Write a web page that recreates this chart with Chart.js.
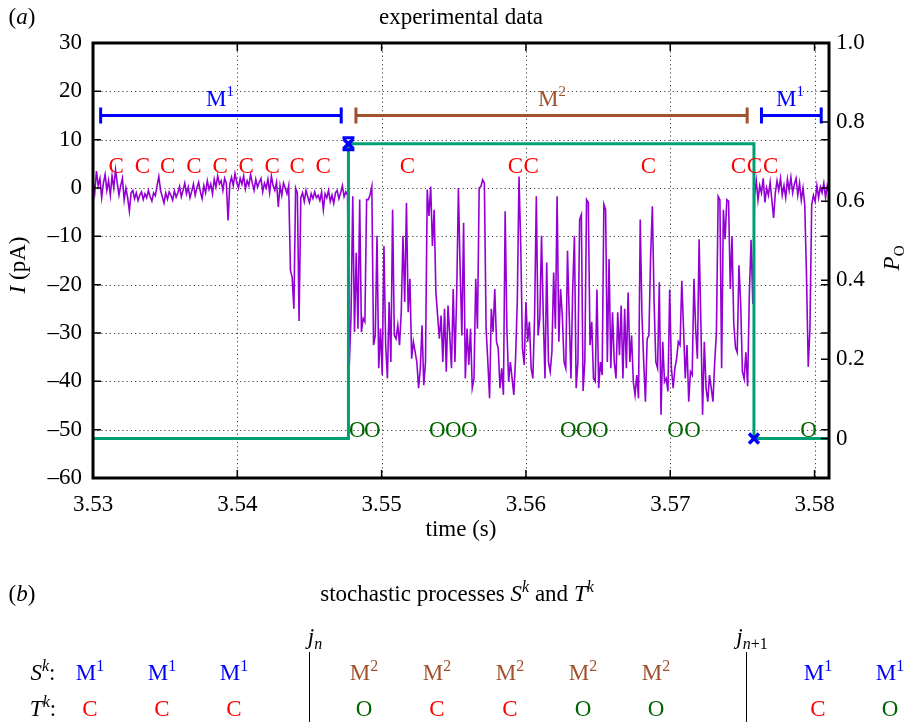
<!DOCTYPE html>
<html>
<head>
<meta charset="utf-8">
<script src="https://cdn.jsdelivr.net/npm/chart.js@4.4.1/dist/chart.umd.min.js"></script>
<style>
  body { margin: 0; background: #fff; }
  #wrap { position: relative; width: 909px; height: 722px; font-family: "Liberation Serif", "Times New Roman", serif; color: #000; }
  #wrap canvas { position: absolute; left: 0; top: 0; }
  .lab { position: absolute; transform: translate(-50%, -50%); white-space: nowrap; font-size: 23px; line-height: 1; }
  .lab sup, .lab sub { font-size: 16px; line-height: 0; }
  .vl { position: absolute; width: 1px; background: #000; }
</style>
</head>
<body>
<div id="wrap">
  <canvas id="chart" width="909" height="722"></canvas>
  <div id="panelB"></div>
</div>
<script>
// Values
// current trace, sampled every dt seconds from t0 (pA)
const t0 = 3.53;
const dt = 0.00012;
const current = [
  1.5, -1, 3.5, 0.5, 2, -2, 1, 2.8, -0.5, 1.5,
  -1.5, 2.5, 0, 3.8, 1, -1.5, 0.5, 2, -2.5, 0,
  -2, -4.8, -1, -0.5, -2.2, -1, -2.6, -1.5, -0.8, -2.4,
  -1.2, -2, -0.5, -1.8, -2.7, -1, -1.6, 0.5, 2.4, -0.5,
  -1.8, -3.1, -1, -2.3, -0.8, -1.5, -2.5, -0.6, -1.9, -1,
  0.3, -1.8, -0.5, 1, -1.2, 0.2, -2, -0.7, 0.8, -1.5,
  0, 1.2, -0.8, -2.2, 0.5, -1, 1.5, -0.3, 0.8, -1.2,
  1.8, 0.2, 2.5, 0.8, 1.5, -0.5, 2, 1, -6.7, 0.8,
  2.2, 0.5, 3, 1.2, 0, 2, 0.8, 2.5, -0.2, 1.5,
  0.5, 2.8, 1, -0.5, 1.8, 0.2, 1.2, 2, -0.8, 1,
  0, 1.8, -1, 2.5, 0.5, -0.5, 1.2, -3.9, 0.5, -1.5,
  1, 0, -1.2, 0.5, -17, -18.5, -25, 0, -1, -27.5,
  -2, -1, -2.8, -0.5, -1.8, -3, -1.2, -2.2, -0.8, -2,
  -1.5, -2.6, -0.8, -4.5, -1.2, -2, -0.5, -2.8, -1.5, -3.2,
  -1, -0.5, -2.2, -1, 0.5, -1.8, -0.8, -1.5,
  // mode 2 bursts
  -36.6, -26.4, -1.7, -29.8, -13.4, -29.1, -2.4, -29.8, -27, -27.7,
  -2.4, -2.4, -1.4, 0.3, -32.5, -30.5, -9.9, -37.3, -29.1, -38.7,
  -12, -32.5, -39.4, -23.6, -36, -4.5, -30.5, -31.2, -28.4, -32.5,
  -25.7, -9.9, -23.6, -3.1, -25.7, -18.8, -35.3, -31.8, -33.9, -36,
  -41.4, -37.3, -28.4, -40.8, -36, -0.3, -5.8, 0.3, -12, -4.5,
  -21.6, -26.4, -31.2, -26.4, -36, -25, -38, -24.3, -30.5, -37.3,
  -20.9, -36, -22.3, 0, -16.8, -30.5, -7.2, -39.4, -29.1, -36.6,
  -29.1, -41.4, -39.4, -18.8, -29.1, 0, 0.3, 1.7, 1, -29.1,
  -36, -43.5, -25, -29.8, -20.9, -31.8, -33.2, -41.4, -37.3, -42.8,
  -4.8, -29.1, -40.1, -36, -39.4, -42.8, -35.3, -23.6, 2.4, -12,
  -33.2, -36.6, -23.6, -31.8, -27.7, -37.3, -39.4, -26.4, -1.7, -30.5,
  -27,
  -9.9, -26.4, -39.4, -15.4, -36, -38, -33.9, -17.5, -29.1, -1.7,
  -31.8, -20.9, -26.4, -36, -37.3, -13, -26.4, -39.4, -20.9, -9.9,
  -41.4, -36, -6.5, -5.5, -42, -36, -2.4, -3, -32.5, -27.7,
  -39.4, -40, -21, -41.4, -36, -38.7, -3.4, -4.5, -36, -14.7,
  -37.3, -25.7, -36, -39.4, -25.7, -34.6, -24.3, -39.4, -25, -37.3,
  -21.6, -36, -30.5, -40.1, -42.8, -38.7, -43.5, -6.5, -26.4, -36,
  -44.2, -31.2, -30.5, -14, -3.8, -23.6, -36, -37.3, -19.5, -46.9,
  -31.8, -40.1, -39.4, -42.1, -21, -37.3, -41.4, -37.3, -35.3, -31.8,
  -32.5, -19.2, -29.1, -39.4, -32.5, -44.2, -38, -38.7, -18.8, -29.1,
  -35.3, -10.6, -27.7, -46.9, -31.8, -41.4, -44.2, -38.7, -41.4, -44.2,
  -36, -29.8, -1.7, -2.4, -37.3, -4.5, -10.6, -2.4, -2.7, -20.9,
  -10, -28, -33, -34, -16, -24, -38, -39.5, -34, -41, -22, -10.7, -24,
  // back to mode 1
  -1.5, 1.5, -2.5, 0.5, -1, 2, -3, 0, -1.5, 1.2,
  -2.5, -6.2, -1, 1.5, -0.5, 2, -1.5, 0.5, -2, 1.8,
  -0.5, 2.2, -1, 0.8, 2, -1.5, 1, -2.5, 0, -3.5,
  -18, -37, -29, -3.5, -1.5, -2.8, 0.5, -2, 0.2, -1,
  1, -2, 0.5, -1
];

// open probability step (right axis)
const stepTimes = [3.53, 3.5477, 3.5477, 3.5758, 3.5758, 3.581];
const stepPo = [0, 0, 0.745, 0.745, 0, 0];
const jumpTimes = [3.5477, 3.5758];
const jumpPo = [0.745, 0];

// mode intervals (drawn at barLevel pA)
const mode1Spans = [[3.53053, 3.5472], [3.57632, 3.58046]];
const mode2Spans = [[3.54822, 3.57533]];
const barLevel = 15;
const modeLabelTimes = [3.5388, 3.5618, 3.5783];
const modeLabelIds = ['1', '2', '1'];
const modeLabelLevel = 18.2;

// closed / open marks
const cTimes = [3.5316, 3.53342, 3.53518, 3.537, 3.53881, 3.54061, 3.54241, 3.54415, 3.54595,
                3.55178, 3.55927, 3.56037, 3.56849, 3.57473, 3.57584, 3.57695];
const oTimes = [3.54831, 3.54935, 3.55386, 3.55497, 3.55608, 3.56294, 3.56405, 3.56516,
                3.57036, 3.57154, 3.57958];
const cLevel = 4.4;
const oLevel = -50.2;

const xTicks = [3.53, 3.54, 3.55, 3.56, 3.57, 3.58];
const yTicks = [-60, -50, -40, -30, -20, -10, 0, 10, 20, 30];
const y2Ticks = [0, 0.2, 0.4, 0.6, 0.8, 1.0];

// panel (b) sequences
const sSeq = ['1', '1', '1', '2', '2', '2', '2', '2', '1', '1'];
const tSeq = ['C', 'C', 'C', 'O', 'C', 'C', 'O', 'O', 'C', 'O'];

const FONT = '"Liberation Serif", "Times New Roman", serif';
const BLUE = '#0000ff', BROWN = '#a0522d', RED = '#ff0000', DKGREEN = '#006400';
const modeColor = id => id === '1' ? BLUE : BROWN;

const traceData = current.map((v, i) => ({ x: t0 + i * dt, y: v }));
const spanData = spans => spans.flatMap(s => [{ x: s[0], y: barLevel }, { x: s[1], y: barLevel }, { x: NaN, y: NaN }]);

function runsWidth(ctx, runs, size) {
  let w = 0;
  runs.forEach(r => {
    const s = r.sup || r.sub ? size * 0.65 : size;
    ctx.font = (r.it ? 'italic ' : '') + s + 'px ' + FONT;
    w += ctx.measureText(r.t).width;
  });
  return w;
}
// draw a run of text pieces (italic / superscript / subscript) centred at x,y
function drawRuns(ctx, runs, x, y, size, color) {
  let cx = x - runsWidth(ctx, runs, size) / 2;
  ctx.fillStyle = color;
  ctx.textAlign = 'left';
  ctx.textBaseline = 'middle';
  runs.forEach(r => {
    const s = r.sup || r.sub ? size * 0.65 : size;
    ctx.font = (r.it ? 'italic ' : '') + s + 'px ' + FONT;
    const dy = r.sup ? -size * 0.35 : r.sub ? size * 0.3 : 0;
    ctx.fillText(r.t, cx, y + dy);
    cx += ctx.measureText(r.t).width;
  });
}

const decorations = {
  id: 'decorations',
  beforeDatasetsDraw(chart) {
    const { ctx, chartArea: a, scales: { x, y } } = chart;
    ctx.save();
    ctx.strokeStyle = '#444';
    ctx.lineWidth = 1;
    ctx.setLineDash([1.2, 3]);
    yTicks.slice(1, -1).forEach(v => {
      const py = Math.round(y.getPixelForValue(v)) + 0.5;
      ctx.beginPath(); ctx.moveTo(a.left, py); ctx.lineTo(a.right, py); ctx.stroke();
    });
    xTicks.slice(1).forEach(v => {
      const px = Math.round(x.getPixelForValue(v)) + 0.5;
      ctx.beginPath(); ctx.moveTo(px, a.top); ctx.lineTo(px, a.bottom); ctx.stroke();
    });
    ctx.restore();
  },
  afterDatasetsDraw(chart) {
    const { ctx, chartArea: a, scales: { x, y, y2 } } = chart;
    ctx.save();
    // hourglass caps on the opening jump marker
    ctx.strokeStyle = BLUE;
    ctx.lineWidth = 3;
    const jx = x.getPixelForValue(jumpTimes[0]), jy = y2.getPixelForValue(jumpPo[0]);
    ctx.beginPath();
    ctx.moveTo(jx - 6, jy - 6); ctx.lineTo(jx + 6, jy - 6);
    ctx.moveTo(jx - 6, jy + 6); ctx.lineTo(jx + 6, jy + 6);
    ctx.stroke();
    // state marks
    ctx.font = '23px ' + FONT;
    ctx.textAlign = 'center';
    ctx.textBaseline = 'middle';
    ctx.fillStyle = RED;
    cTimes.forEach(t => ctx.fillText('C', x.getPixelForValue(t), y.getPixelForValue(cLevel)));
    ctx.fillStyle = DKGREEN;
    oTimes.forEach(t => ctx.fillText('O', x.getPixelForValue(t), y.getPixelForValue(oLevel)));
    // mode labels
    modeLabelTimes.forEach((t, i) => {
      drawRuns(ctx, [{ t: 'M' }, { t: modeLabelIds[i], sup: true }],
        x.getPixelForValue(t), y.getPixelForValue(modeLabelLevel), 23, modeColor(modeLabelIds[i]));
    });
    // frame
    ctx.strokeStyle = '#000';
    ctx.lineWidth = 3;
    ctx.strokeRect(a.left, a.top, a.right - a.left, a.bottom - a.top);
    // inward ticks
    ctx.lineWidth = 1.5;
    ctx.beginPath();
    yTicks.slice(1, -1).forEach(v => {
      const py = y.getPixelForValue(v);
      ctx.moveTo(a.left, py); ctx.lineTo(a.left + 8, py);
      ctx.moveTo(a.right, py); ctx.lineTo(a.right - 8, py);
    });
    y2Ticks.slice(0, -1).forEach(v => {
      const py = y2.getPixelForValue(v);
      ctx.moveTo(a.right, py); ctx.lineTo(a.right - 8, py);
    });
    xTicks.slice(1).forEach(v => {
      const px = x.getPixelForValue(v);
      ctx.moveTo(px, a.bottom); ctx.lineTo(px, a.bottom - 8);
      ctx.moveTo(px, a.top); ctx.lineTo(px, a.top + 8);
    });
    ctx.stroke();
    ctx.restore();
  },
  afterDraw(chart) {
    const { ctx, chartArea: a } = chart;
    ctx.save();
    drawRuns(ctx, [{ t: '(' }, { t: 'a', it: true }, { t: ')' }], 22, 18, 23, '#000');
    drawRuns(ctx, [{ t: 'experimental data' }], 461, 18, 23, '#000');
    drawRuns(ctx, [{ t: 'time (s)' }], (a.left + a.right) / 2, 530, 23, '#000');
    ctx.translate(19, 265);
    ctx.rotate(-Math.PI / 2);
    drawRuns(ctx, [{ t: 'I', it: true }, { t: ' (pA)' }], 0, 0, 23, '#000');
    ctx.setTransform(1, 0, 0, 1, 0, 0);
    ctx.translate(893, 258);
    ctx.rotate(-Math.PI / 2);
    drawRuns(ctx, [{ t: 'P', it: true }, { t: 'O', sub: true }], 0, 0, 23, '#000');
    ctx.restore();
  }
};

const tickFont = { family: FONT, size: 23 };
const fixTicks = vals => scale => { scale.ticks = vals.map(v => ({ value: v })); };

new Chart(document.getElementById('chart'), {
  type: 'line',
  data: {
    datasets: [
      { data: jumpTimes.map((t, i) => ({ x: t, y: jumpPo[i] })), yAxisID: 'y2', showLine: false,
        pointStyle: 'crossRot', pointRadius: 7, borderColor: BLUE, borderWidth: 3.5, order: 0 },
      { data: stepTimes.map((t, i) => ({ x: t, y: stepPo[i] })), yAxisID: 'y2',
        borderColor: '#009e73', borderWidth: 3, pointRadius: 0, order: 1 },
      { data: spanData(mode1Spans), yAxisID: 'y', borderColor: BLUE, borderWidth: 3, spanGaps: false,
        pointStyle: 'line', rotation: 90, pointRadius: 8, pointBorderWidth: 3, order: 2 },
      { data: spanData(mode2Spans), yAxisID: 'y', borderColor: BROWN, borderWidth: 3, spanGaps: false,
        pointStyle: 'line', rotation: 90, pointRadius: 8, pointBorderWidth: 3, order: 2 },
      { data: traceData, yAxisID: 'y', borderColor: '#9400d3', borderWidth: 1.6, pointRadius: 0, order: 3 }
    ]
  },
  options: {
    responsive: false,
    animation: false,
    devicePixelRatio: 1,
    layout: { padding: { top: 43, left: 0, right: 0, bottom: 0 } },
    plugins: { legend: { display: false }, tooltip: { enabled: false } },
    scales: {
      x: {
        type: 'linear', min: 3.53, max: 3.581,
        afterBuildTicks: fixTicks(xTicks),
        afterFit: s => { s.height = 244; },
        grid: { display: false, drawTicks: false }, border: { display: false },
        ticks: { font: tickFont, color: '#000', padding: 13, maxRotation: 0, callback: v => v.toFixed(2) }
      },
      y: {
        position: 'left', min: -60, max: 30,
        afterBuildTicks: fixTicks(yTicks),
        afterFit: s => { s.width = 93; },
        grid: { display: false, drawTicks: false }, border: { display: false },
        ticks: { font: tickFont, color: '#000', padding: 11, callback: v => v < 0 ? '\u2013' + Math.abs(v) : String(v) }
      },
      y2: {
        position: 'right', min: -0.1, max: 1.0,
        afterBuildTicks: fixTicks(y2Ticks),
        afterFit: s => { s.width = 80; },
        grid: { display: false, drawTicks: false }, border: { display: false },
        ticks: { font: tickFont, color: '#000', padding: 7, callback: v => v === 0 ? '0' : v.toFixed(1) }
      }
    }
  },
  plugins: [decorations]
});

// panel (b): the stochastic processes as text
const colX = [90, 162, 234, 364, 437, 510, 583, 656, 818, 890];
const sepX = [309, 746];
const sepLabels = ['<i>n</i>', '<i>n</i>+1'];
const pb = document.getElementById('panelB');
function addLab(html, x, y, color) {
  const d = document.createElement('div');
  d.className = 'lab';
  d.style.left = x + 'px';
  d.style.top = y + 'px';
  if (color) d.style.color = color;
  d.innerHTML = html;
  pb.appendChild(d);
}
addLab('(<i>b</i>)', 22, 593);
addLab('stochastic processes <i>S</i><sup><i>k</i></sup> and <i>T</i><sup><i>k</i></sup>', 457, 593);
addLab('<i>S</i><sup><i>k</i></sup>:', 43, 672);
addLab('<i>T</i><sup><i>k</i></sup>:', 43, 708);
sSeq.forEach((m, i) => addLab('M<sup>' + m + '</sup>', colX[i], 672, modeColor(m)));
tSeq.forEach((s, i) => addLab(s, colX[i], 708, s === 'C' ? RED : DKGREEN));
sepX.forEach((sx, i) => {
  addLab('<i>j</i><sub>' + sepLabels[i] + '</sub>', sx + 6, 636);
  const l = document.createElement('div');
  l.className = 'vl';
  l.style.left = sx + 'px';
  l.style.top = '652px';
  l.style.height = '70px';
  pb.appendChild(l);
});
</script>
</body>
</html>
